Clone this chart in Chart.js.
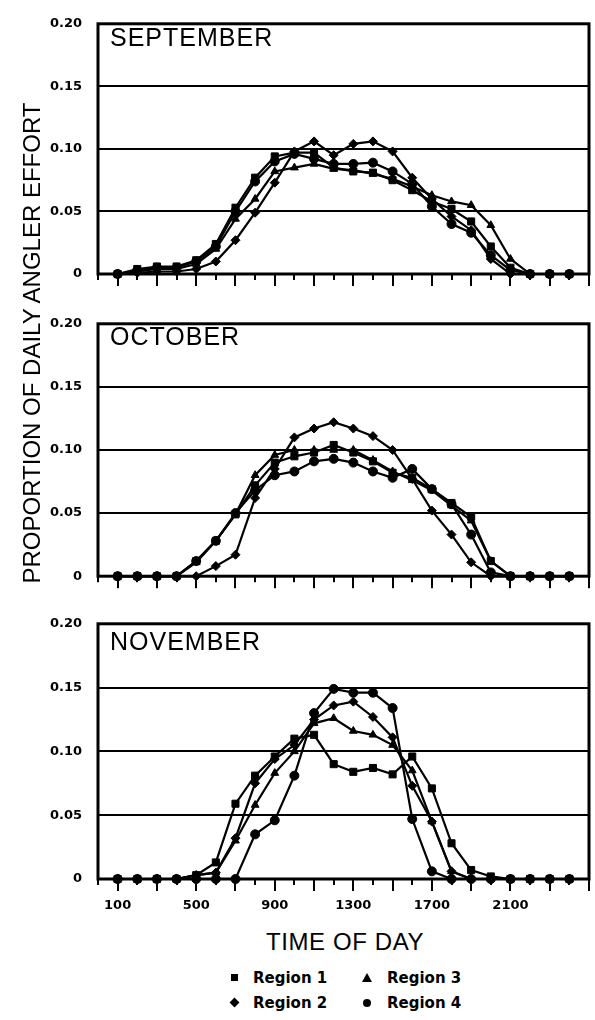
<!DOCTYPE html>
<html>
<head>
<meta charset="utf-8">
<script src="https://cdn.jsdelivr.net/npm/chart.js@4.4.1/dist/chart.umd.min.js"></script>
<style>
body { margin: 0; background: #fff; }
#wrap { position: relative; width: 595px; height: 1020px; font-family: "Liberation Sans", Arial, sans-serif; color: #000; overflow: hidden; }
canvas { position: absolute; left: 0; }
.month { position: absolute; left: 110px; font-size: 25px; line-height: 24px; letter-spacing: 1px; }
#ytitle { position: absolute; left: -218px; top: 330px; width: 500px; height: 26px; line-height: 26px;
  font-size: 24px; text-align: center; transform: rotate(-90deg); white-space: nowrap; }
#xtitle { position: absolute; left: 98px; top: 930px; width: 494px; font-size: 24px; line-height: 24px; text-align: center; letter-spacing: 0.6px; }
.leg { position: absolute; font-family: "DejaVu Sans", sans-serif; font-weight: bold; font-size: 15px; line-height: 18px; white-space: nowrap; }
.mk { position: absolute; background: #000; }
</style>
</head>
<body>
<div id="wrap">
  <canvas id="sep" width="595" height="300" style="top:0"></canvas>
  <canvas id="oct" width="595" height="300" style="top:300px"></canvas>
  <canvas id="nov" width="595" height="320" style="top:600px"></canvas>

  <div class="month" style="top:25px">SEPTEMBER</div>
  <div class="month" style="top:324px">OCTOBER</div>
  <div class="month" style="top:629px">NOVEMBER</div>

  <div id="ytitle">PROPORTION OF DAILY ANGLER EFFORT</div>
  <div id="xtitle">TIME OF DAY</div>

  <div class="mk" style="left:231px;top:974px;width:7px;height:7px"></div>
  <div class="leg" style="left:253px;top:969px">Region 1</div>
  <div class="mk" style="left:362px;top:973px;width:0;height:0;background:none;border-left:5px solid transparent;border-right:5px solid transparent;border-bottom:9px solid #000"></div>
  <div class="leg" style="left:387px;top:969px">Region 3</div>
  <div class="mk" style="left:231px;top:999px;width:7px;height:7px;transform:rotate(45deg)"></div>
  <div class="leg" style="left:253px;top:994px">Region 2</div>
  <div class="mk" style="left:363px;top:999px;width:8px;height:8px;border-radius:50%"></div>
  <div class="leg" style="left:387px;top:994px">Region 4</div>
</div>

<script>
// Time of day (hour start), one point per hour
const hours = [100, 200, 300, 400, 500, 600, 700, 800, 900, 1000, 1100, 1200,
               1300, 1400, 1500, 1600, 1700, 1800, 1900, 2000, 2100, 2200, 2300, 2400];

// Tick labels
const timeLabels = [100, 500, 900, 1300, 1700, 2100];
const effortTicks = [0, 0.05, 0.10, 0.15, 0.20];

// September
const sepRegion1 = [0, .004, .006, .006, .011, .024, .053, .077, .094, .097, .097, .085, .082, .081, .075, .067, .058, .052, .042, .022, .005, 0, 0, 0];
const sepRegion2 = [0, .001, .002, .002, .004, .010, .027, .049, .073, .098, .106, .095, .104, .106, .098, .077, .060, .046, .035, .012, 0, 0, 0, 0];
const sepRegion3 = [0, .002, .004, .004, .008, .020, .044, .060, .082, .085, .088, .084, .083, .080, .076, .070, .063, .058, .055, .039, .012, 0, 0, 0];
const sepRegion4 = [0, .003, .005, .005, .010, .022, .050, .074, .090, .096, .092, .088, .088, .089, .082, .072, .054, .040, .033, .015, .003, 0, 0, 0];

// October
const octRegion1 = [0, 0, 0, 0, .012, .028, .049, .072, .090, .095, .098, .104, .098, .091, .082, .078, .069, .058, .047, .012, 0, 0, 0, 0];
const octRegion2 = [0, 0, 0, 0, 0, .008, .017, .062, .085, .110, .117, .122, .117, .111, .100, .077, .052, .033, .011, 0, 0, 0, 0, 0];
const octRegion3 = [0, 0, 0, 0, .011, .028, .049, .080, .096, .100, .100, .100, .100, .092, .083, .076, .068, .056, .044, .012, 0, 0, 0, 0];
const octRegion4 = [0, 0, 0, 0, .012, .028, .050, .068, .080, .083, .091, .093, .090, .083, .078, .085, .069, .057, .033, .003, 0, 0, 0, 0];

// November
const novRegion1 = [0, 0, 0, 0, .003, .013, .059, .081, .096, .110, .113, .090, .084, .087, .082, .096, .071, .028, .007, .002, 0, 0, 0, 0];
const novRegion2 = [0, 0, 0, 0, .003, .005, .032, .075, .094, .105, .125, .136, .139, .127, .111, .073, .045, .006, 0, 0, 0, 0, 0, 0];
const novRegion3 = [0, 0, 0, 0, .003, .005, .030, .058, .083, .100, .122, .126, .116, .113, .105, .085, .045, .006, 0, 0, 0, 0, 0, 0];
const novRegion4 = [0, 0, 0, 0, 0, 0, 0, .035, .046, .081, .130, .149, .146, .146, .134, .047, .006, 0, 0, 0, 0, 0, 0, 0];

const regionNames = ['Region 1', 'Region 2', 'Region 3', 'Region 4'];
const regionMarkers = ['rect', 'rectRot', 'triangle', 'circle'];

const tickFont = { family: 'DejaVu Sans', weight: 'bold', size: 13 };

// Thick black frame round each plot area
const framePlugin = {
    id: 'frame',
    beforeDatasetsDraw(chart) {
        const a = chart.chartArea;
        const c = chart.ctx;
        c.save();
        c.strokeStyle = '#000';
        c.lineWidth = 3;
        c.strokeRect(a.left, a.top, a.right - a.left, a.bottom - a.top);
        c.restore();
    },
    // hour tick marks hanging below the frame: long on odd hundreds, short on even
    afterDraw(chart) {
        const a = chart.chartArea;
        const c = chart.ctx;
        const xs = chart.scales.x;
        c.save();
        c.fillStyle = '#000';
        xs.ticks.forEach(t => {
            const px = Math.round(xs.getPixelForValue(t.value));
            const len = (t.value / 100) % 2 === 1 ? 12 : 6;
            c.fillRect(px - 1, a.bottom, 2, len);
        });
        c.restore();
    }
};

function makePanel(id, series, padTop, xHeight, showLabels) {
    const datasets = series.map((vals, i) => ({
        label: regionNames[i],
        data: hours.map((h, j) => ({ x: h, y: vals[j] })),
        borderColor: '#000',
        backgroundColor: '#000',
        borderWidth: 2.2,
        pointStyle: regionMarkers[i],
        pointRadius: regionMarkers[i] === 'rect' ? 5 : 4.5,
        pointBorderWidth: 1,
        tension: 0,
        clip: false
    }));

    return new Chart(document.getElementById(id), {
        type: 'line',
        data: { datasets: datasets },
        options: {
            responsive: false,
            animation: false,
            layout: { padding: { top: padTop, right: 0, left: 0, bottom: 0 } },
            plugins: { legend: { display: false }, tooltip: { enabled: false } },
            scales: {
                x: {
                    type: 'linear',
                    min: 0,
                    max: 2500,
                    border: { display: false },
                    // grid hidden, tick length only reserves room above the labels
                    grid: { display: false, drawTicks: true, tickLength: 16 },
                    ticks: {
                        stepSize: 100,
                        autoSkip: false,
                        maxRotation: 0,
                        padding: 3,
                        color: '#000',
                        font: tickFont,
                        callback: v => (showLabels && timeLabels.includes(v)) ? String(v) : ''
                    },
                    afterFit: s => { s.height = xHeight; }
                },
                y: {
                    min: 0,
                    max: 0.20,
                    border: { display: false },
                    grid: { color: '#000', lineWidth: 2, drawTicks: false },
                    ticks: {
                        stepSize: 0.05,
                        padding: 16,
                        color: '#000',
                        font: tickFont,
                        callback: v => {
                            const t = effortTicks.find(e => Math.abs(e - v) < 1e-6);
                            return t === 0 ? '0' : t.toFixed(2);
                        }
                    },
                    afterFit: s => { s.width = 98; }
                }
            }
        },
        plugins: [framePlugin]
    });
}

makePanel('sep', [sepRegion1, sepRegion2, sepRegion3, sepRegion4], 14, 26, false);
makePanel('oct', [octRegion1, octRegion2, octRegion3, octRegion4], 18, 23, false);
makePanel('nov', [novRegion1, novRegion2, novRegion3, novRegion4], 13, 41, true);
</script>
</body>
</html>
